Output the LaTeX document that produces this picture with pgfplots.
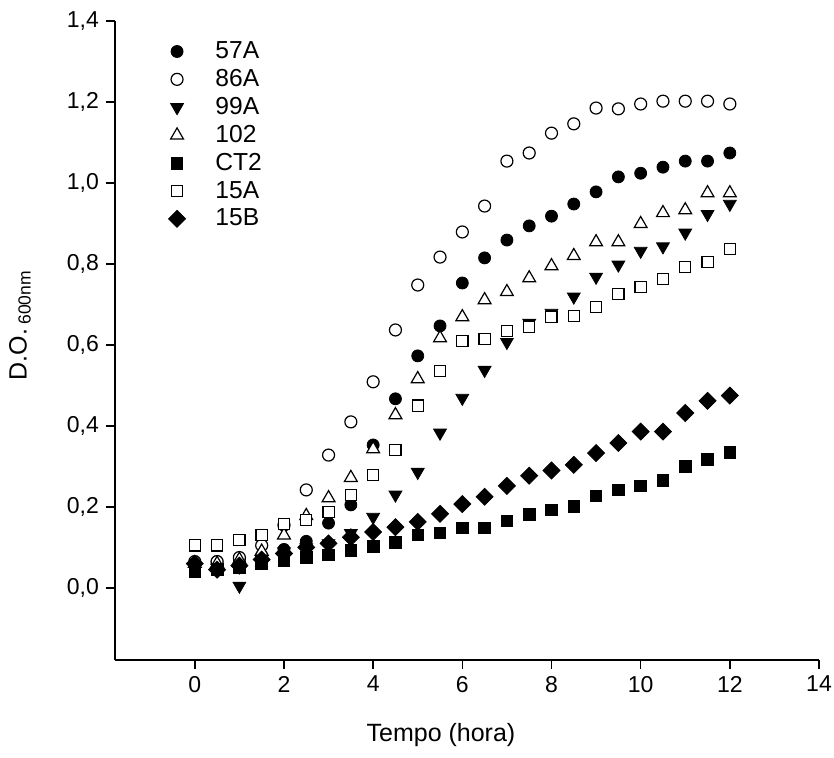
\documentclass[border=0pt]{standalone}
\usepackage{pgfplots}
\pgfplotsset{compat=1.18}
\usepackage{fontspec}
\setmainfont{Liberation Sans}
\begin{document}
\begin{tikzpicture}
\useasboundingbox (-57.5pt,-49pt) rectangle (359.5pt,330pt);
\begin{axis}[
  at={(0pt,0pt)}, anchor=south west,
  scale only axis, width=352pt, height=319.5pt,
  xmin=-1.79, xmax=14, ymin=-0.178, ymax=1.4,
  axis lines*=left,
  axis line style={line width=0.75pt},
  tick align=outside,
  major tick length=4.5pt,
  tick style={line width=0.75pt, black},
  xtick={0,2,4,6,8,10,12,14},
  ytick={0,0.2,0.4,0.6,0.8,1.0,1.2,1.4},
  /pgf/number format/assume math mode=true,
  yticklabel style={/pgf/number format/.cd, fixed, fixed zerofill, precision=1, use comma},
  tick label style={font=\fontsize{11.5}{13}\selectfont},
  xlabel={Tempo (hora)},
  ylabel={D.O.\,\textsubscript{600nm}},
  label style={font=\fontsize{12.5}{15}\selectfont},
  xlabel style={at={(axis description cs:0.463,-0.1174)}, anchor=center},
  ylabel style={at={(axis description cs:-0.135,0.524)}, anchor=center},
  legend image code/.code={%
    \path (0pt,0pt) (17pt,0pt);
    \draw[mark repeat=2,mark phase=2,#1] plot coordinates {(-0.3cm,0cm) (0cm,0cm) (0.3cm,0cm)};},
  legend style={draw=none, fill=none, at={(axis description cs:0.067,0.981)}, anchor=north west,
    font=\fontsize{12.3}{13}\selectfont, row sep=-0.1pt},
  legend cell align=left,
  every axis plot/.append style={only marks, black},
]
\addplot[mark=*, mark size=3pt, mark options={fill=black}] table {
x y
0 0.060
0.5 0.065
1 0.070
1.5 0.080
2 0.095
2.5 0.115
3 0.160
3.5 0.205
4 0.353
4.5 0.467
5 0.573
5.5 0.647
6 0.753
6.5 0.815
7 0.859
7.5 0.894
8 0.918
8.5 0.948
9 0.978
9.5 1.015
10 1.024
10.5 1.039
11 1.054
11.5 1.054
12 1.074
};
\addlegendentry{57A}
\addplot[mark=*, mark size=3pt, mark options={fill=white, draw=black, line width=0.6pt}] table {
x y
0 0.065
0.5 0.065
1 0.075
1.5 0.105
2 0.155
2.5 0.242
3 0.328
3.5 0.410
4 0.509
4.5 0.637
5 0.748
5.5 0.817
6 0.879
6.5 0.943
7 1.054
7.5 1.074
8 1.123
8.5 1.146
9 1.185
9.5 1.183
10 1.195
10.5 1.202
11 1.202
11.5 1.202
12 1.195
};
\addlegendentry{86A}
\addplot[mark=triangle*, mark size=3.7pt, mark options={rotate=180, fill=black}] table {
x y
0 0.050
0.5 0.050
1 0.005
1.5 0.070
2 0.090
2.5 0.100
3 0.110
3.5 0.135
4 0.175
4.5 0.230
5 0.286
5.5 0.383
6 0.469
6.5 0.538
7 0.607
7.5 0.654
8 0.679
8.5 0.719
9 0.768
9.5 0.798
10 0.832
10.5 0.843
11 0.877
11.5 0.923
12 0.948
};
\addlegendentry{99A}
\addplot[mark=triangle*, mark size=3.7pt, mark options={fill=white, draw=black, line width=0.6pt}] table {
x y
0 0.060
0.5 0.060
1 0.070
1.5 0.090
2 0.130
2.5 0.178
3 0.222
3.5 0.272
4 0.343
4.5 0.427
5 0.516
5.5 0.617
6 0.669
6.5 0.711
7 0.731
7.5 0.765
8 0.795
8.5 0.820
9 0.854
9.5 0.854
10 0.899
10.5 0.926
11 0.933
11.5 0.975
12 0.975
};
\addlegendentry{102}
\addplot[mark=square*, mark size=2.9pt, mark options={fill=black}] table {
x y
0 0.040
0.5 0.045
1 0.050
1.5 0.060
2 0.068
2.5 0.075
3 0.082
3.5 0.092
4 0.102
4.5 0.112
5 0.131
5.5 0.136
6 0.148
6.5 0.148
7 0.165
7.5 0.182
8 0.193
8.5 0.202
9 0.227
9.5 0.242
10 0.252
10.5 0.265
11 0.300
11.5 0.318
12 0.335
};
\addlegendentry{CT2}
\addplot[mark=square*, mark size=2.8pt, mark options={fill=white, draw=black, line width=0.6pt}] table {
x y
0 0.105
0.5 0.105
1 0.118
1.5 0.130
2 0.158
2.5 0.168
3 0.188
3.5 0.230
4 0.279
4.5 0.341
5 0.450
5.5 0.536
6 0.610
6.5 0.615
7 0.635
7.5 0.644
8 0.669
8.5 0.672
9 0.694
9.5 0.726
10 0.743
10.5 0.763
11 0.793
11.5 0.805
12 0.837
};
\addlegendentry{15A}
\addplot[mark=square*, mark size=3pt, mark options={rotate=45, fill=black}] table {
x y
0 0.060
0.5 0.045
1 0.055
1.5 0.070
2 0.085
2.5 0.100
3 0.110
3.5 0.125
4 0.138
4.5 0.150
5 0.163
5.5 0.183
6 0.207
6.5 0.225
7 0.252
7.5 0.277
8 0.290
8.5 0.304
9 0.333
9.5 0.358
10 0.386
10.5 0.386
11 0.432
11.5 0.462
12 0.475
};
\addlegendentry{15B}
\end{axis}
\end{tikzpicture}
\end{document}
